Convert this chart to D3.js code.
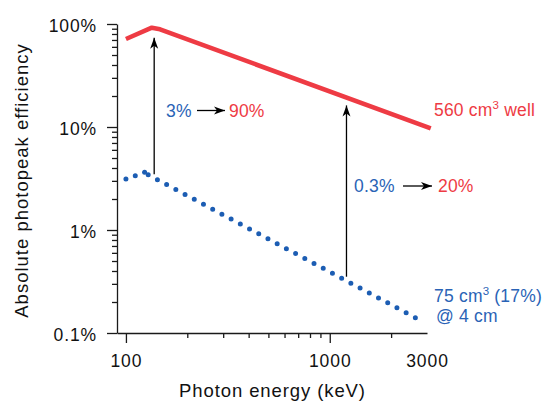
<!DOCTYPE html>
<html>
<head>
<meta charset="utf-8">
<script src="https://cdn.jsdelivr.net/npm/d3@7"></script>
<style>
  body { margin: 0; background: #fff; }
  svg text { font-family: "Liberation Sans", Arial, Helvetica, sans-serif; }
</style>
</head>
<body>
<div id="chart"></div>
<script>
// 560 cm3 well detector (red line)
var wellEnergy = [100, 134, 147, 3130];
var wellEff = [71.5, 92, 88.8, 9.7];
// 75 cm3 (17%) detector @ 4 cm (blue dotted)
var smallEnergy = [100, 123.5, 128.6, 2630];
var smallEff = [3.13, 3.63, 3.44, 0.141];
// vertical gain arrows
var arrowEnergy = [137.6, 1208];
var arrowFrom = [3.48, 0.352];
var arrowTo = [73.6, 16.2];

var xMajor = [100, 1000];
var xMinor = [200, 300, 400, 500, 600, 700, 800, 900, 2000];
var xLabelTicks = [100, 1000, 3000];
var yMajor = [0.1, 1, 10, 100];
var yMinor = [0.2, 0.3, 0.4, 0.5, 0.6, 0.7, 0.8, 0.9,
              2, 3, 4, 5, 6, 7, 8, 9,
              20, 30, 40, 50, 60, 70, 80, 90];
var yLabels = ["0.1%", "1%", "10%", "100%"];

var red = "#ee3b44", blue = "#1c5db3", blueText = "#2a63b6";

var dim = { width: 545, height: 401, left: 117, right: 427, top: 24, bottom: 333 };

var x = d3.scaleLog().domain([90.4, 3000]).range([dim.left, dim.right]);
var y = d3.scaleLog().domain([0.1, 100]).range([dim.bottom, dim.top]);

var svg = d3.select("#chart").append("svg")
    .attr("width", dim.width)
    .attr("height", dim.height);

var defs = svg.append("defs");
defs.append("marker")
    .attr("id", "head")
    .attr("viewBox", "-12 -5 12 10")
    .attr("refX", 0).attr("refY", 0)
    .attr("markerUnits", "userSpaceOnUse")
    .attr("markerWidth", 12).attr("markerHeight", 10)
    .attr("orient", "auto")
  .append("path")
    .attr("d", "M0,0L-11,-4L-8,0L-11,4Z")
    .attr("fill", "#000");

// axes
var yAxis = d3.axisLeft(y)
    .tickValues(yMajor.concat(yMinor))
    .tickSize(10).tickSizeOuter(0).tickPadding(10)
    .tickFormat(function(d) { var i = yMajor.indexOf(d); return i < 0 ? "" : yLabels[i]; });

var xAxis = d3.axisBottom(x)
    .tickValues(xMajor.concat(xMinor).concat([3000]))
    .tickSize(10).tickSizeOuter(0).tickPadding(12)
    .tickFormat(function(d) { return xLabelTicks.indexOf(d) < 0 ? "" : d; });

var gy = svg.append("g")
    .attr("class", "y axis")
    .attr("transform", "translate(" + dim.left + ",0)")
    .call(yAxis);
gy.selectAll(".tick line").filter(function(d) { return yMajor.indexOf(d) < 0; }).attr("x2", -5);
gy.selectAll(".tick text").attr("dy", "0.41em");

var gx = svg.append("g")
    .attr("class", "x axis")
    .attr("transform", "translate(0," + dim.bottom + ")")
    .call(xAxis);
gx.selectAll(".tick line").filter(function(d) { return xMajor.indexOf(d) < 0; }).attr("y2", 5);
gx.selectAll(".tick line").filter(function(d) { return d === 3000; }).attr("y2", 0);
gx.selectAll(".tick text").attr("y", 22);

svg.selectAll(".axis path, .axis line").attr("stroke", "#1a1a1a").attr("stroke-width", 1.3);
svg.selectAll(".axis text")
    .attr("font-size", 17.5)
    .attr("letter-spacing", 0.9)
    .attr("fill", "#111")
    .style("font-family", '"Liberation Sans", Arial, sans-serif');

// axis titles
svg.append("text")
    .attr("transform", "translate(27.5," + ((dim.top + dim.bottom) / 2 + 2) + ") rotate(-90)")
    .attr("text-anchor", "middle")
    .attr("font-size", 18.5)
    .attr("letter-spacing", 1)
    .attr("fill", "#111")
    .text("Absolute photopeak efficiency");

svg.append("text")
    .attr("x", 272.5)
    .attr("y", 396.5)
    .attr("text-anchor", "middle")
    .attr("font-size", 18.5)
    .attr("letter-spacing", 0.9)
    .attr("fill", "#111")
    .text("Photon energy (keV)");

// red well-detector line
var line = d3.line()
    .x(function(d) { return x(d[0]); })
    .y(function(d) { return y(d[1]); });

svg.append("path")
    .datum(d3.zip(wellEnergy, wellEff))
    .attr("d", line)
    .attr("fill", "none")
    .attr("stroke", red)
    .attr("stroke-width", 4.6)
    .attr("stroke-linejoin", "round");

// blue dotted line, each segment dotted from its own start
var smallPts = d3.zip(smallEnergy, smallEff);
d3.pairs(smallPts).forEach(function(seg) {
    var p = svg.append("path")
        .attr("d", line(seg))
        .attr("fill", "none")
        .attr("stroke", blue)
        .attr("stroke-width", 5)
        .attr("stroke-linecap", "round");
    var len = p.node().getTotalLength();
    var n = Math.max(1, Math.round(len / 10.45));
    p.attr("stroke-dasharray", "0 " + (len / n));
});

// vertical arrows
arrowEnergy.forEach(function(e, i) {
    svg.append("line")
        .attr("x1", x(e)).attr("x2", x(e))
        .attr("y1", y(arrowFrom[i])).attr("y2", y(arrowTo[i]))
        .attr("stroke", "#000")
        .attr("stroke-width", 1.3)
        .attr("marker-end", "url(#head)");
});

// annotations
function label(xp, yp, txt, color) {
    return svg.append("text")
        .attr("x", xp).attr("y", yp)
        .attr("font-size", 17.5)
        .attr("letter-spacing", 0.2)
        .attr("fill", color)
        .text(txt);
}
function sideArrow(x1, x2, yp) {
    svg.append("line")
        .attr("x1", x1).attr("x2", x2)
        .attr("y1", yp).attr("y2", yp)
        .attr("stroke", "#000")
        .attr("stroke-width", 1.3)
        .attr("marker-end", "url(#head)");
}

label(166, 117, "3%", blueText);
sideArrow(197, 225, 110.5);
label(229, 117, "90%", red);

label(354, 192, "0.3%", blueText);
sideArrow(403, 432, 186);
label(438, 192, "20%", red);

function cmLabel(xp, yp, pre, post, color) {
    var t = label(xp, yp, "", color);
    t.append("tspan").text(pre);
    t.append("tspan").attr("dy", -7).attr("font-size", 11.5).text("3");
    t.append("tspan").attr("dy", 7).text(post);
}
cmLabel(434, 116, "560 cm", " well", red);
cmLabel(434, 302, "75 cm", " (17%)", blueText);
label(436, 322, "@ 4 cm", blueText);
</script>
</body>
</html>
